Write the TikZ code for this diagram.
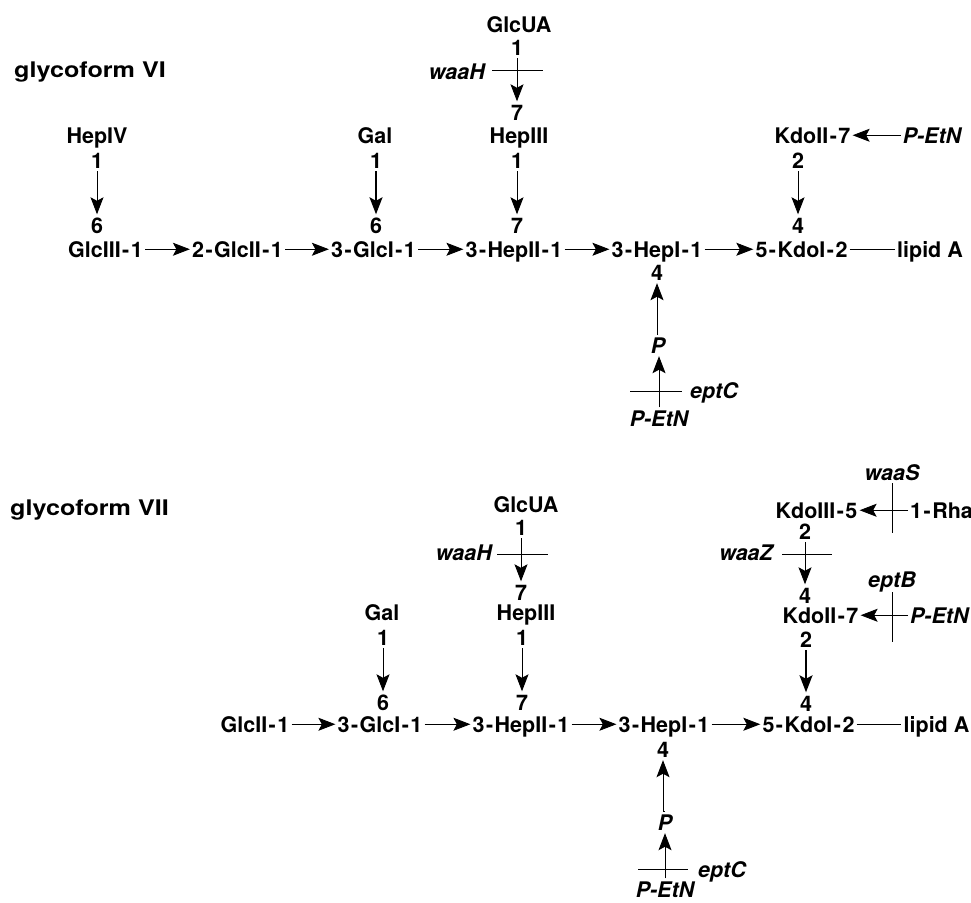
\documentclass[tikz,border=0pt]{standalone}
\usepackage{fontspec}
\usepackage{graphicx}
\setmainfont{TeX Gyre Heros}
\usetikzlibrary{arrows.meta}
\newcommand\dsize{\fontsize{21.5}{26}\selectfont}
\newcommand\hy{\kern1.5pt-\kern1.5pt}
\tikzset{
  lbl/.style={inner xsep=2pt, inner ysep=3pt, text height=15.5pt, text depth=0pt, anchor=base, font=\dsize\bfseries},
  gene/.style={lbl, font=\dsize\bfseries\itshape},
  arr/.style={-{Stealth[length=17pt,width=13pt,inset=3.5pt]}, line width=0.9pt},
  thk/.style={line width=1.7pt},
  bar/.style={line width=0.9pt},
  plain/.style={line width=0.9pt}
}
\begin{document}
\begin{tikzpicture}[x=1pt,y=-1pt]
\useasboundingbox (0,0) rectangle (971,902);

% ===== glycoform VI =====
\node[lbl, anchor=base west] (t6) at (12,77) {\scalebox{1.17}[1]{glycoform VI}};

\node[lbl] (a3) at (105.5,257) {GlcIII\hy1};
\node[lbl] (a2) at (237.5,257) {2\hy GlcII\hy1};
\node[lbl] (a1) at (373.5,257) {3\hy GlcI\hy1};
\node[lbl] (ah2) at (514,257) {3\hy HepII\hy1};
\node[lbl] (ah1) at (657,257) {3\hy HepI\hy1};
\node[lbl] (ak1) at (801.5,257) {5\hy KdoI\hy2};
\node[lbl] (ala) at (930,257) {lipid A};
\draw[arr] (a3.east) -- (a2.west);
\draw[arr] (a2.east) -- (a1.west);
\draw[arr] (a1.east) -- (ah2.west);
\draw[arr] (ah2.east) -- (ah1.west);
\draw[arr] (ah1.east) -- (ak1.west);
\draw[plain] (ak1.east) -- (ala.west);

% HepIV branch
\node[lbl] (ah4) at (97,143) {HepIV};
\node[lbl] (ah4a) at (97,168) {1};
\node[lbl] (ah4b) at (97,233) {6};
\draw[arr] (ah4a.south) -- (ah4a.south |- ah4b.north);

% Gal branch
\node[lbl] (agal) at (375,143) {Gal};
\node[lbl] (agala) at (376,168) {1};
\node[lbl] (agalb) at (376,233) {6};
\draw[arr, thk] (agala.south) -- (agala.south |- agalb.north);

% GlcUA / HepIII branch
\node[lbl] (agu) at (519,32) {GlcUA};
\node[lbl] (agua) at (517,55) {1};
\node[lbl] (agub) at (517,120) {7};
\node[lbl] (ah3) at (519,143) {HepIII};
\node[lbl] (ah3a) at (517,168) {1};
\node[lbl] (ah3b) at (517,233) {7};
\draw[arr] (agua.south) -- (agua.south |- agub.north);
\draw[arr] (ah3a.south) -- (ah3a.south |- ah3b.north);
\coordinate (ax1) at (492,70);
\coordinate (ax2) at (543,70);
\draw[bar] (ax1) -- (ax2);
\node[gene, anchor=base east] (awaah) at (487,79) {waaH};

% KdoII branch
\node[lbl] (ak2) at (812.5,143) {KdoII\hy7};
\node[lbl] (ak2a) at (798,168) {2};
\node[lbl] (ak2b) at (798,233) {4};
\draw[arr] (ak2a.south) -- (ak2a.south |- ak2b.north);
\node[gene] (ape1) at (932,143) {P-EtN};
\draw[arr] (ape1.west) -- (ak2.east);

% HepI phosphate branch
\node[lbl] (ah1a) at (657,280) {4};
\node[gene] (ap) at (658,353) {P};
\node[gene] (ape2) at (659,426) {P-EtN};
\draw[arr] (ap.north) -- (ap.north -| ah1a.south) -- (ah1a.south);
\draw[arr] (ape2.north) -- (ape2.north |- ap.south);
\coordinate (ay1) at (630,391);
\coordinate (ay2) at (682,391);
\draw[bar] (ay1) -- (ay2);
\node[gene, anchor=base west] (aeptc) at (688,398) {eptC};

% ===== glycoform VII =====
\node[lbl, anchor=base west] (t7) at (8,515) {\scalebox{1.17}[1]{glycoform VII}};

\node[lbl] (b2) at (255,732) {GlcII\hy1};
\node[lbl] (b1) at (380,732) {3\hy GlcI\hy1};
\node[lbl] (bh2) at (521,732) {3\hy HepII\hy1};
\node[lbl] (bh1) at (664,732) {3\hy HepI\hy1};
\node[lbl] (bk1) at (808.5,732) {5\hy KdoI\hy2};
\node[lbl] (bla) at (936.5,732) {lipid A};
\draw[arr] (b2.east) -- (b1.west);
\draw[arr] (b1.east) -- (bh2.west);
\draw[arr] (bh2.east) -- (bh1.west);
\draw[arr] (bh1.east) -- (bk1.west);
\draw[plain] (bk1.east) -- (bla.west);

% Gal branch
\node[lbl] (bgal) at (382,620) {Gal};
\node[lbl] (bgala) at (383,645) {1};
\node[lbl] (bgalb) at (383,710) {6};
\draw[arr] (bgala.south) -- (bgala.south |- bgalb.north);

% GlcUA / HepIII branch
\node[lbl] (bgu) at (526,512) {GlcUA};
\node[lbl] (bgua) at (521,535) {1};
\node[lbl] (bgub) at (521,600) {7};
\node[lbl] (bh3) at (526,620) {HepIII};
\node[lbl] (bh3a) at (522,645) {1};
\node[lbl] (bh3b) at (522,710) {7};
\draw[arr] (bgua.south) -- (bgua.south |- bgub.north);
\draw[arr] (bh3a.south) -- (bh3a.south |- bh3b.north);
\coordinate (bx1) at (497,554);
\coordinate (bx2) at (548,554);
\draw[bar] (bx1) -- (bx2);
\node[gene, anchor=base east] (bwaah) at (494,560) {waaH};

% Kdo branch
\node[lbl] (bk3) at (816.5,518) {KdoIII\hy5};
\node[lbl] (bk3a) at (805,539) {2};
\node[lbl] (bk2b4) at (805,603) {4};
\node[lbl] (bk2) at (820.5,623) {KdoII\hy7};
\node[lbl] (bk2a) at (806,647) {2};
\node[lbl] (bk1b) at (806,711) {4};
\draw[arr] (bk3a.south) -- (bk3a.south |- bk2b4.north);
\draw[arr, thk] (bk2a.south) -- (bk2a.south |- bk1b.north);
\coordinate (bz1) at (782,554);
\coordinate (bz2) at (832,554);
\draw[bar] (bz1) -- (bz2);
\node[gene, anchor=base east] (bwaaz) at (775,560) {waaZ};

\node[lbl, anchor=base west] (brha) at (908,518) {1\hy Rha};
\draw[arr] (brha.west) -- (bk3.east);
\node[gene] (bwaas) at (892,480) {waaS};
\coordinate (bs1) at (892,483);
\coordinate (bs2) at (892,533);
\draw[bar] (bs1) -- (bs2);

\node[gene, anchor=base west] (bpe1) at (908,623) {P-EtN};
\draw[arr] (bpe1.west) -- (bk2.east);
\node[gene] (beptb) at (892,587) {eptB};
\coordinate (bb1) at (892,592);
\coordinate (bb2) at (892,642);
\draw[bar] (bb1) -- (bb2);

% HepI phosphate branch
\node[lbl] (bh1a) at (663,757) {4};
\node[gene] (bp) at (665,830) {P};
\node[gene] (bpe2) at (665,897) {P-EtN};
\draw[arr] (bp.north) -- (bp.north -| bh1a.south) -- (bh1a.south);
\draw[arr] (bpe2.north) -- (bpe2.north |- bp.south);
\coordinate (by1) at (638,869);
\coordinate (by2) at (688,869);
\draw[bar] (by1) -- (by2);
\node[gene, anchor=base west] (beptc) at (696,877) {eptC};
\end{tikzpicture}
\end{document}
